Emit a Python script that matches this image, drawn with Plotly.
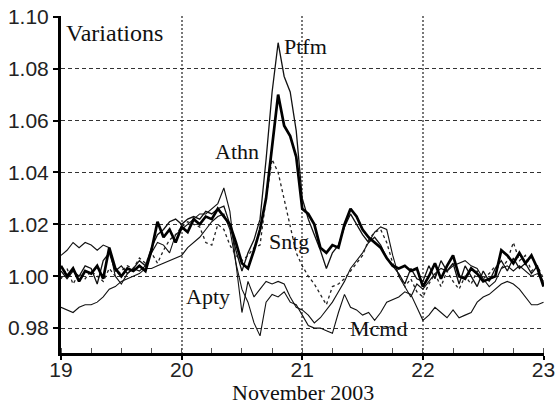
import plotly.graph_objects as go

days = [19.00, 19.05, 19.10, 19.15, 19.20, 19.25, 19.30, 19.35, 19.40, 19.45,
        19.50, 19.55, 19.60, 19.65, 19.70, 19.75, 19.80, 19.85, 19.90, 19.95,
        20.00, 20.05, 20.10, 20.15, 20.20, 20.25, 20.30, 20.35, 20.40, 20.45,
        20.50, 20.55, 20.60, 20.65, 20.70, 20.75, 20.80, 20.85, 20.90, 20.95,
        21.00, 21.05, 21.10, 21.15, 21.20, 21.25, 21.30, 21.35, 21.40, 21.45,
        21.50, 21.55, 21.60, 21.65, 21.70, 21.75, 21.80, 21.85, 21.90, 21.95,
        22.00, 22.05, 22.10, 22.15, 22.20, 22.25, 22.30, 22.35, 22.40, 22.45,
        22.50, 22.55, 22.60, 22.65, 22.70, 22.75, 22.80, 22.85, 22.90, 22.95,
        23.00]

ptfm = [1.002, 0.999, 1.002, 1.000, 1.004, 1.003, 0.997, 1.006, 1.009, 1.002,
        1.004, 1.001, 1.003, 1.006, 1.004, 1.011, 1.016, 1.018, 1.021, 1.022,
        1.020, 1.022, 1.023, 1.022, 1.025, 1.024, 1.026, 1.027, 1.020, 1.010,
        1.002, 1.009, 1.014, 1.022, 1.045, 1.071, 1.090, 1.077, 1.071, 1.056,
        1.030, 1.022, 1.016, 1.010, 1.003, 1.009, 1.012, 1.019, 1.024, 1.020,
        1.016, 1.013, 1.015, 1.012, 1.007, 1.004, 1.001, 0.997, 1.003, 0.999,
        0.998, 1.004, 0.999, 1.006, 1.002, 1.005, 0.997, 1.004, 1.000, 0.996,
        1.002, 0.998, 1.003, 1.006, 1.002, 1.007, 1.003, 1.005, 1.001, 1.004,
        0.997]

athn = [1.004, 1.000, 1.003, 0.998, 1.002, 1.001, 1.004, 0.999, 1.011, 1.003,
        1.000, 1.003, 1.002, 1.004, 1.002, 1.010, 1.021, 1.015, 1.018, 1.013,
        1.019, 1.017, 1.022, 1.020, 1.023, 1.022, 1.026, 1.023, 1.020, 1.013,
        1.005, 1.003, 1.010, 1.018, 1.030, 1.050, 1.070, 1.058, 1.054, 1.046,
        1.026, 1.024, 1.020, 1.011, 1.009, 1.012, 1.011, 1.020, 1.026, 1.023,
        1.018, 1.015, 1.013, 1.011, 1.007, 1.004, 1.003, 1.004, 1.002, 1.003,
        0.996, 1.000, 1.005, 0.999, 1.004, 1.008, 1.000, 0.999, 1.003, 1.001,
        0.998, 0.999, 1.000, 1.010, 1.008, 1.005, 1.009, 1.005, 1.008, 1.003,
        0.996]

sntg = [0.999, 1.003, 0.997, 1.001, 0.999, 1.002, 1.000, 0.998, 1.003, 1.000,
        1.002, 1.004, 1.003, 1.007, 1.005, 1.009, 1.005, 1.010, 1.014, 1.016,
        1.019, 1.021, 1.020, 1.019, 1.013, 1.012, 1.020, 1.018, 1.012, 1.008,
        1.006, 1.008, 1.011, 1.012, 1.030, 1.045, 1.040, 1.030, 1.020, 1.009,
        1.004, 1.000, 0.997, 0.993, 0.989, 0.996, 0.997, 0.999, 1.002, 1.005,
        1.008, 1.014, 1.017, 1.018, 1.013, 1.005, 1.001, 0.996, 0.999, 0.994,
        0.992, 0.997, 1.001, 0.996, 1.002, 0.998, 0.995, 1.000, 0.997, 1.002,
        0.999, 1.001, 1.004, 1.003, 1.006, 1.013, 1.006, 1.008, 1.002, 1.004,
        0.999]

apty = [1.008, 1.010, 1.013, 1.011, 1.013, 1.012, 1.010, 1.012, 1.011, 1.000,
        0.997, 1.001, 1.003, 1.002, 1.004, 1.009, 1.013, 1.012, 1.009, 1.016,
        1.018, 1.020, 1.022, 1.024, 1.024, 1.026, 1.028, 1.034, 1.025, 1.005,
        0.986, 0.998, 0.992, 0.995, 0.998, 0.997, 0.998, 0.997, 0.992, 0.988,
        0.987, 0.985, 0.982, 0.984, 0.987, 0.990, 0.994, 0.998, 1.003, 1.006,
        1.009, 1.013, 1.017, 1.019, 1.018, 1.008, 1.000, 0.996, 0.992, 0.997,
        0.995, 0.998, 1.001, 1.003, 1.002, 1.004, 1.005, 1.006, 1.004, 1.003,
        0.999, 0.996, 0.998, 1.003, 1.004, 1.002, 1.004, 1.002, 1.000, 1.001,
        0.998]

mcmd = [0.988, 0.987, 0.986, 0.988, 0.989, 0.989, 0.990, 0.992, 0.995, 0.996,
        0.998, 0.999, 1.000, 1.001, 1.003, 1.003, 1.004, 1.005, 1.006, 1.007,
        1.008, 1.011, 1.013, 1.015, 1.018, 1.021, 1.023, 1.024, 1.018, 1.005,
        0.995, 0.990, 0.982, 0.977, 0.990, 0.993, 0.992, 0.994, 0.990, 0.989,
        0.985, 0.981, 0.980, 0.980, 0.979, 0.978, 0.986, 0.993, 0.988, 0.987,
        0.985, 0.986, 0.983, 0.986, 0.990, 0.991, 0.992, 0.994, 0.993, 0.988,
        0.983, 0.985, 0.988, 0.986, 0.984, 0.987, 0.984, 0.985, 0.986, 0.990,
        0.992, 0.993, 0.995, 0.997, 0.998, 0.997, 0.995, 0.992, 0.989, 0.989,
        0.990]

x_ticks = [19, 20, 21, 22, 23]
x_tick_labels = ["19", "20", "21", "22", "23"]
y_ticks = [0.98, 1.00, 1.02, 1.04, 1.06, 1.08, 1.10]
y_tick_labels = ["0.98", "1.00", "1.02", "1.04", "1.06", "1.08", "1.10"]

labels = ["Ptfm", "Athn", "Sntg", "Apty", "Mcmd"]
label_x = [20.83, 20.26, 20.71, 20.02, 21.38]
label_y = [1.0884, 1.048, 1.0134, 0.9922, 0.9800]

serif = "Liberation Serif, Times New Roman, serif"
sans = "Liberation Sans, Arial, sans-serif"

fig = go.Figure()
series = [
    (mcmd, dict(color="#111", width=1.1)),
    (apty, dict(color="#111", width=1.1)),
    (sntg, dict(color="#222", width=1.3, dash="3px,3px")),
    (ptfm, dict(color="#111", width=1.3)),
    (athn, dict(color="#000", width=2.7)),
]
for vals, ln in series:
    fig.add_trace(go.Scatter(x=days, y=vals, mode="lines", line=ln,
                             showlegend=False, hoverinfo="skip"))

annotations = [dict(x=19.0, y=1.0938, text="Variations", xref="x", yref="y",
                    xanchor="left", yanchor="middle", showarrow=False, xshift=3,
                    font=dict(family=serif, size=24, color="#111")),
               dict(x=0.5, y=-0.118, text="November 2003", xref="paper", yref="paper",
                    xanchor="center", yanchor="middle", showarrow=False,
                    font=dict(family=serif, size=22, color="#111"))]
for t, lx, ly in zip(labels, label_x, label_y):
    annotations.append(dict(x=lx, y=ly, text=t, xref="x", yref="y",
                            xanchor="left", yanchor="middle", showarrow=False,
                            font=dict(family=serif, size=22, color="#111")))

fig.update_layout(
    width=556, height=405,
    margin=dict(l=61, r=12, t=16, b=52),
    plot_bgcolor="white", paper_bgcolor="white",
    annotations=annotations,
    xaxis=dict(
        range=[19, 23.004], tickmode="array", tickvals=x_ticks, ticktext=x_tick_labels,
        showgrid=True, gridcolor="#777", gridwidth=2, griddash="2px,2px",
        showline=True, linecolor="#000", linewidth=2.5,
        ticks="outside", ticklen=4, tickwidth=1.5, tickcolor="#000",
        ticklabelstandoff=-8,
        minor=dict(dtick=0.25, tick0=19, ticks="inside", ticklen=5, tickwidth=1.2,
                   tickcolor="#555", showgrid=False),
        tickfont=dict(family=sans, size=21, color="#222"),
        automargin=False,
        zeroline=False,
    ),
    yaxis=dict(
        range=[0.9704, 1.1003], tickmode="array", tickvals=y_ticks, ticktext=y_tick_labels,
        showgrid=True, gridcolor="#333", gridwidth=1.3, griddash="4px,3px",
        showline=True, linecolor="#000", linewidth=3,
        ticks="outside", ticklen=5, tickwidth=1.5, tickcolor="#000",
        tickfont=dict(family=sans, size=21, color="#222"),
        automargin=False,
        zeroline=False,
    ),
)

fig.write_html("out.html", config={"displayModeBar": False},
               post_script="document.body.style.margin='0';document.body.style.overflow='hidden';")
